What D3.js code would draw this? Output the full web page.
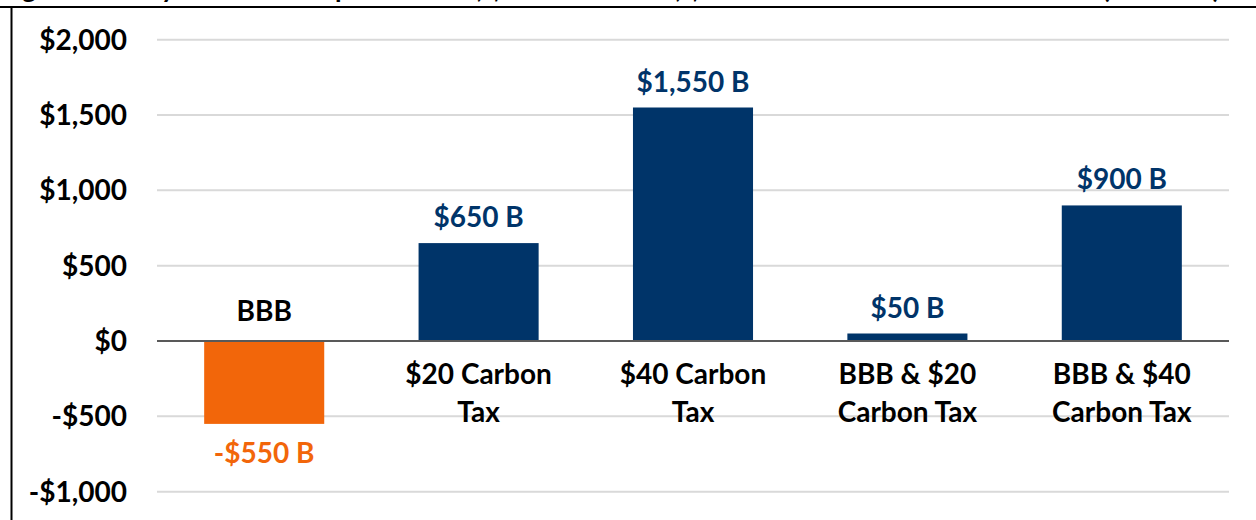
<!DOCTYPE html>
<html>
<head>
<meta charset="utf-8">
<script src="https://cdn.jsdelivr.net/npm/d3@7"></script>
<style>
  body { margin: 0; background: #fff; }
  svg { display: block; font-family: Lato, "Open Sans", sans-serif; font-weight: bold; }
</style>
</head>
<body>
<svg width="1256" height="520"></svg>
<script>
// chart data
const categories = ["BBB", "$20 Carbon Tax", "$40 Carbon Tax", "BBB & $20 Carbon Tax", "BBB & $40 Carbon Tax"];
const labelLines = [["BBB"], ["$20 Carbon", "Tax"], ["$40 Carbon", "Tax"], ["BBB & $20", "Carbon Tax"], ["BBB & $40", "Carbon Tax"]];
const values = [-550, 650, 1550, 50, 900];
const valueLabels = ["-$550 B", "$650 B", "$1,550 B", "$50 B", "$900 B"];
const yTicks = [-1000, -500, 0, 500, 1000, 1500, 2000];
const titleText = "Figure 3. Ten-year Deficit Impact of BBB, $20 Carbon Tax, $40 Carbon Tax and Combinations (2022-31)";

const navy = "#003469", orange = "#F2660A";

const svg = d3.select("svg"),
    width = 1256,
    height = 520;

const plotLeft = 157, plotRight = 1229;

const x = d3.scaleBand()
    .domain(categories)
    .range([plotLeft, plotRight])
    .paddingInner(0.44)
    .paddingOuter(0.22);

const y = d3.scaleLinear()
    .domain([-1000, 2000])
    .range([491.7, 39.7]);

// title, mostly cropped off the top of the picture
svg.append("clipPath").attr("id", "titleClip")
    .append("rect").attr("x", 0).attr("y", 0).attr("width", width).attr("height", 6);
svg.append("text")
    .attr("clip-path", "url(#titleClip)")
    .attr("x", 0)
    .attr("y", -2)
    .attr("textLength", 1220)
    .attr("lengthAdjust", "spacingAndGlyphs")
    .style("font-size", "26px")
    .attr("fill", "#000")
    .text(titleText);

// frame lines
svg.append("line")
    .attr("x1", 0).attr("x2", width).attr("y1", 7).attr("y2", 7)
    .attr("stroke", "#000").attr("stroke-width", 2);
svg.append("line")
    .attr("x1", 11.5).attr("x2", 11.5).attr("y1", 7).attr("y2", height)
    .attr("stroke", "#000").attr("stroke-width", 2);

// gridlines
svg.append("g")
    .selectAll("line")
    .data(yTicks.filter(d => d !== 0))
    .enter()
    .append("line")
    .attr("x1", plotLeft).attr("x2", plotRight)
    .attr("y1", d => y(d)).attr("y2", d => y(d))
    .attr("stroke", "#D9D9D9")
    .attr("stroke-width", 2);

// y axis labels
svg.append("g")
    .selectAll("text")
    .data(yTicks)
    .enter()
    .append("text")
    .attr("x", 127)
    .attr("y", d => y(d))
    .attr("dy", "0.36em")
    .attr("text-anchor", "end")
    .style("font-size", "28px")
    .attr("fill", "#000")
    .text(d => (d < 0 ? "-$" : "$") + d3.format(",")(Math.abs(d)));

// bars
svg.append("g")
    .selectAll("rect")
    .data(values)
    .enter()
    .append("rect")
    .attr("x", (d, i) => x(categories[i]))
    .attr("width", x.bandwidth())
    .attr("y", d => y(Math.max(0, d)))
    .attr("height", d => Math.abs(y(d) - y(0)))
    .attr("fill", d => d < 0 ? orange : navy);

// zero line
svg.append("line")
    .attr("x1", plotLeft).attr("x2", plotRight)
    .attr("y1", y(0)).attr("y2", y(0))
    .attr("stroke", "#595959")
    .attr("stroke-width", 2);

// value labels
svg.append("g")
    .selectAll("text")
    .data(values)
    .enter()
    .append("text")
    .attr("x", (d, i) => x(categories[i]) + x.bandwidth() / 2)
    .attr("y", d => d < 0 ? y(d) + 39 : y(d) - 16)
    .attr("text-anchor", "middle")
    .style("font-size", "28px")
    .attr("fill", d => d < 0 ? orange : navy)
    .text((d, i) => valueLabels[i]);

// category labels (negative bar gets its label above the axis)
const cat = svg.append("g")
    .selectAll("text")
    .data(labelLines)
    .enter()
    .append("text")
    .attr("x", (d, i) => x(categories[i]) + x.bandwidth() / 2)
    .attr("y", (d, i) => values[i] < 0 ? y(0) - 20 : y(0) + 43)
    .attr("text-anchor", "middle")
    .style("font-size", "28px")
    .attr("fill", "#000");

cat.selectAll("tspan")
    .data(d => d)
    .enter()
    .append("tspan")
    .attr("x", function() { return d3.select(this.parentNode).attr("x"); })
    .attr("dy", (d, j) => j === 0 ? 0 : 38)
    .text(d => d);
</script>
</body>
</html>
